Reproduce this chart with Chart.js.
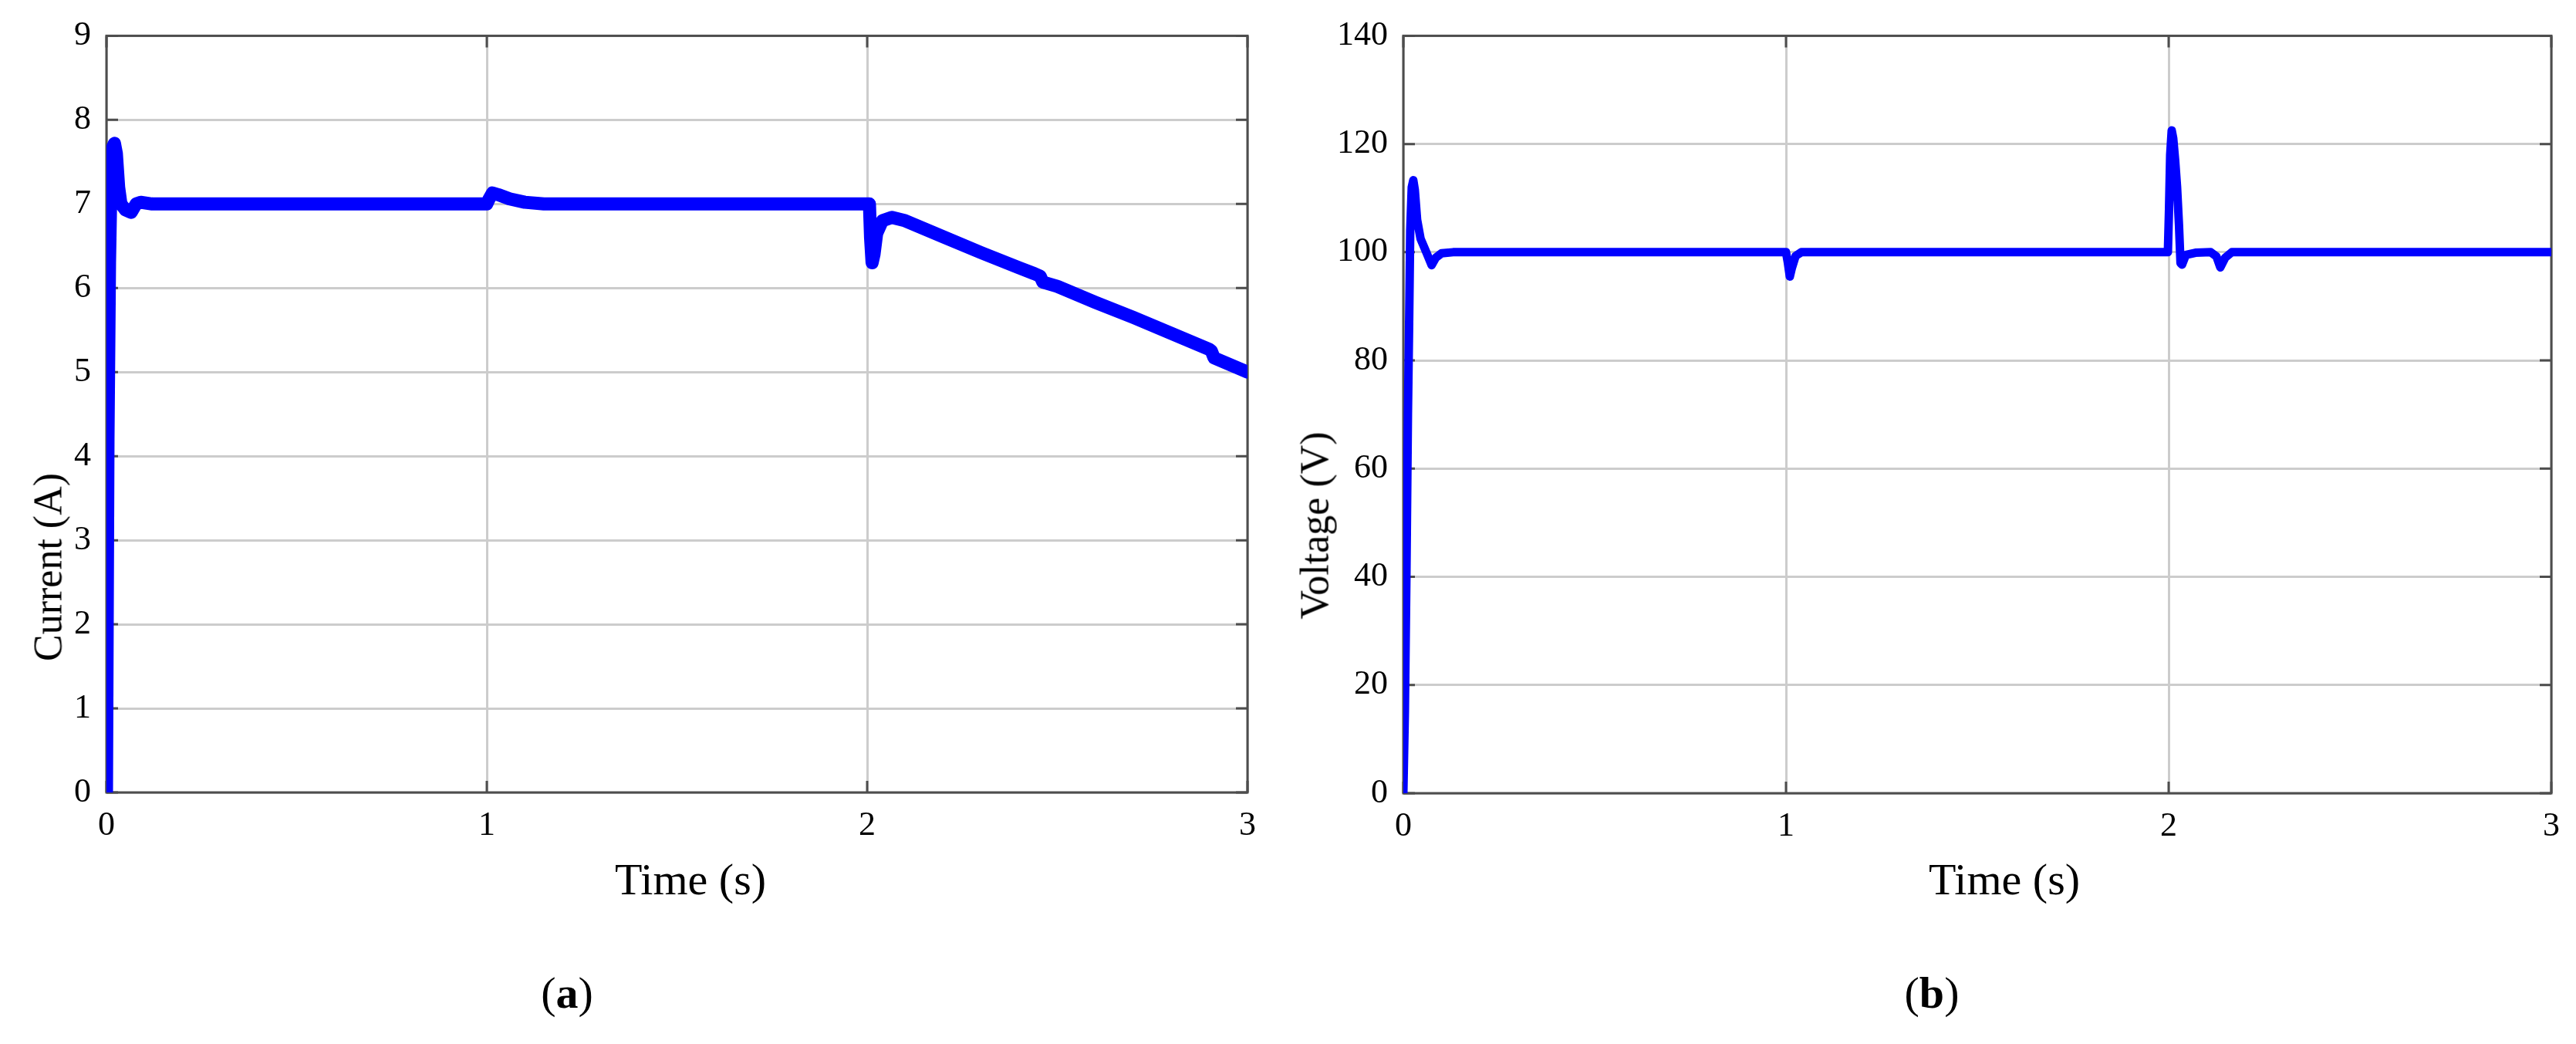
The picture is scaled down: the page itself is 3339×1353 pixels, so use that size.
<!DOCTYPE html>
<html>
<head>
<meta charset="utf-8">
<script src="https://cdn.jsdelivr.net/npm/chart.js"></script>
<style>
  body { margin: 0; background: #fff; }
  #page { position: relative; width: 3339px; height: 1353px; overflow: hidden; background: #fff; }
  canvas { position: absolute; top: 0; }
  .lbl {
    position: absolute; white-space: nowrap; color: #000;
    font-family: 'Liberation Serif', 'Times New Roman', serif;
    transform: translate(-50%, -50%);
  }
  .rot { transform: translate(-50%, -50%) rotate(-90deg); }
</style>
</head>
<body>
<div id="page">
  <canvas id="chart-current" width="1650" height="1200" style="left:0"></canvas>
  <canvas id="chart-voltage" width="1689" height="1200" style="left:1650px"></canvas>

  <div class="lbl rot" style="left:62px;top:735px;font-size:52px">Current (A)</div>
  <div class="lbl rot" style="left:1704px;top:681px;font-size:52px">Voltage (V)</div>
  <div class="lbl" style="left:895px;top:1139px;font-size:58px">Time (s)</div>
  <div class="lbl" style="left:2598px;top:1139px;font-size:58px">Time (s)</div>
  <div class="lbl" style="left:735px;top:1286px;font-size:58px">(<b>a</b>)</div>
  <div class="lbl" style="left:2504px;top:1286px;font-size:58px">(<b>b</b>)</div>
</div>

<script>
// Zeitachse / Ticks
const timeTicks = [0, 1, 2, 3];
const currentTicks = [0, 1, 2, 3, 4, 5, 6, 7, 8, 9];
const voltageTicks = [0, 20, 40, 60, 80, 100, 120, 140];

// (a) Strom
const currentT = [0, 0.004, 0.008, 0.012, 0.017, 0.021, 0.026, 0.032, 0.038, 0.05,
  0.065, 0.078, 0.09, 0.12, 0.3, 0.5, 0.7, 0.9, 1.0, 1.006,
  1.015, 1.03, 1.06, 1.1, 1.15, 1.4, 1.7, 2.0, 2.006, 2.009,
  2.013, 2.018, 2.025, 2.04, 2.065, 2.1, 2.2, 2.3, 2.4, 2.44,
  2.455, 2.462, 2.5, 2.6, 2.7, 2.8, 2.9, 2.905, 2.912, 3.0];
const currentA = [0, 4.2, 6.3, 7.3, 7.68, 7.72, 7.6, 7.2, 7.0, 6.93,
  6.9, 7.0, 7.02, 7.0, 7.0, 7.0, 7.0, 7.0, 7.0, 7.06,
  7.13, 7.11, 7.06, 7.02, 7.0, 7.0, 7.0, 7.0, 7.0, 6.6,
  6.3, 6.4, 6.65, 6.8, 6.84, 6.8, 6.61, 6.42, 6.24, 6.17,
  6.14, 6.07, 6.02, 5.83, 5.65, 5.46, 5.27, 5.25, 5.17, 5.0];

// (b) Spannung
const voltageT = [0, 0.004, 0.008, 0.012, 0.015, 0.018, 0.022, 0.026, 0.03, 0.036,
  0.045, 0.06, 0.074, 0.085, 0.1, 0.13, 0.5, 1.0, 1.005, 1.01,
  1.015, 1.025, 1.04, 1.5, 1.998, 2.001, 2.004, 2.008, 2.012, 2.017,
  2.022, 2.027, 2.031, 2.035, 2.045, 2.07, 2.11, 2.125, 2.135, 2.148,
  2.165, 2.3, 3.0];
const voltageV = [0, 15, 40, 70, 86, 104, 112, 113.3, 111.5, 106,
  102.5, 100, 97.6, 99, 99.8, 100, 100, 100, 98, 95.5,
  97, 99.3, 100, 100, 100, 108, 118, 122.5, 121, 117,
  112, 105, 98, 97.7, 99.5, 99.9, 100, 99.2, 97.2, 99,
  100, 100, 100];

const FONT = "'Liberation Serif', 'Times New Roman', serif";

// Rahmen + nach innen zeigende Ticks (MATLAB-Stil)
const framePlugin = {
  id: 'frame',
  beforeDatasetsDraw(chart) {
    const { ctx, chartArea: a, scales } = chart;
    const len = 15;
    ctx.save();
    ctx.strokeStyle = '#4d4d4d';
    ctx.lineWidth = 3;
    ctx.beginPath();
    scales.x.ticks.forEach(t => {
      const px = scales.x.getPixelForValue(t.value);
      ctx.moveTo(px, a.bottom); ctx.lineTo(px, a.bottom - len);
      ctx.moveTo(px, a.top); ctx.lineTo(px, a.top + len);
    });
    scales.y.ticks.forEach(t => {
      const py = scales.y.getPixelForValue(t.value);
      ctx.moveTo(a.left, py); ctx.lineTo(a.left + len, py);
      ctx.moveTo(a.right, py); ctx.lineTo(a.right - len, py);
    });
    ctx.stroke();
    ctx.strokeRect(a.left, a.top, a.right - a.left, a.bottom - a.top);
    ctx.restore();
  }
};

function makeChart(id, xs, ys, yTicks, lineWidth, pad, yWidth, xHeight) {
  return new Chart(document.getElementById(id), {
    type: 'line',
    data: {
      datasets: [{
        data: xs.map((t, i) => ({ x: t, y: ys[i] })),
        borderColor: '#0000ff',
        borderWidth: lineWidth,
        borderJoinStyle: 'round',
        borderCapStyle: 'round',
        pointRadius: 0,
        tension: 0,
        fill: false
      }]
    },
    options: {
      responsive: false,
      animation: false,
      devicePixelRatio: 1,
      layout: { padding: pad },
      plugins: { legend: { display: false }, tooltip: { enabled: false } },
      scales: {
        x: {
          type: 'linear',
          min: timeTicks[0],
          max: timeTicks[timeTicks.length - 1],
          afterBuildTicks: s => { s.ticks = timeTicks.map(v => ({ value: v })); },
          afterFit: s => { s.height = xHeight; },
          ticks: { color: '#000', font: { family: FONT, size: 44 }, padding: 17, maxRotation: 0 },
          grid: { color: '#cccccc', lineWidth: 3, drawTicks: false },
          border: { display: false }
        },
        y: {
          type: 'linear',
          min: yTicks[0],
          max: yTicks[yTicks.length - 1],
          afterBuildTicks: s => { s.ticks = yTicks.map(v => ({ value: v })); },
          afterFit: s => { s.width = yWidth; },
          ticks: { color: '#000', font: { family: FONT, size: 44 }, padding: 20 },
          grid: { color: '#cccccc', lineWidth: 3, drawTicks: false },
          border: { display: false }
        }
      }
    },
    plugins: [framePlugin]
  });
}

makeChart('chart-current', currentT, currentA, currentTicks, 17,
  { top: 37, right: 33, left: 0, bottom: 0 }, 138, 173);
makeChart('chart-voltage', voltageT, voltageV, voltageTicks, 11,
  { top: 38, right: 32, left: 0, bottom: 0 }, 169, 172);
</script>
</body>
</html>
